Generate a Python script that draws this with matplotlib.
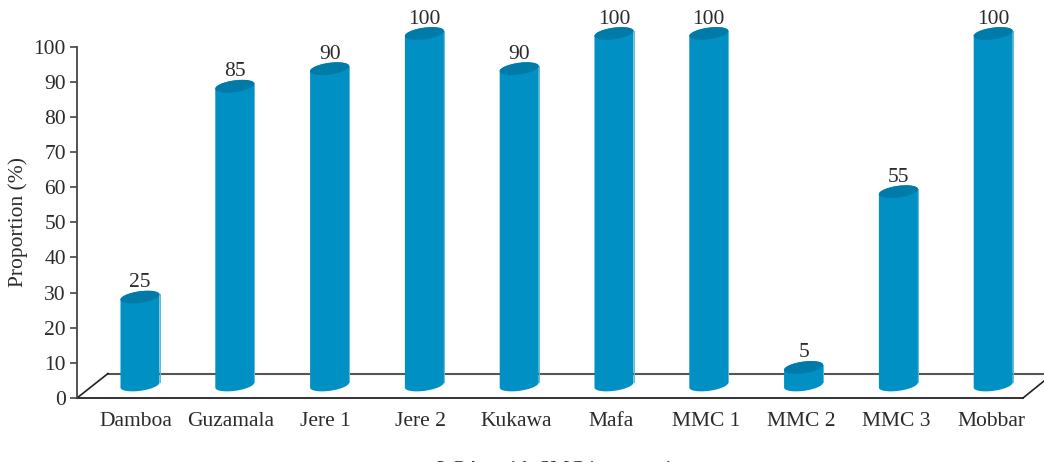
import numpy as np
import matplotlib
matplotlib.use("Agg")
import matplotlib.pyplot as plt
from matplotlib.patches import Polygon
from matplotlib.transforms import ScaledTranslation

categories = ["Damboa", "Guzamala", "Jere 1", "Jere 2", "Kukawa", "Mafa",
              "MMC 1", "MMC 2", "MMC 3", "Mobbar"]
values = [25, 85, 90, 100, 90, 100, 100, 5, 55, 100]
y_ticks = list(range(0, 101, 10))

W, H = 1044, 462
plt.rcParams["font.family"] = ["Liberation Serif", "DejaVu Serif"]
INK = "#2b2b2b"
BODY = "#0090C4"
TOP = "#007BA8"
EDGE = "#5DBBDC"
FS = 15.5

fig = plt.figure(figsize=(W / 100, H / 100), dpi=100)
left, right, bottom, top = 77, W, 398, 46.5
ax = fig.add_axes([left / W, 1 - bottom / H, (right - left) / W, (bottom - top) / H])
x0, step = 140.0, 94.8
ax.set_xlim((left - x0) / step, (right - x0) / step)
ax.set_ylim(0, 100)
sx = step
sy = (bottom - top) / 100

for s in ["top", "right", "bottom"]:
    ax.spines[s].set_visible(False)
ax.spines["left"].set_color("#444444")
ax.spines["left"].set_linewidth(1.3)

ax.set_yticks(y_ticks)
ax.set_xticks(range(len(categories)))
ax.set_xticklabels(categories)
ax.tick_params(axis="y", length=5, width=1.2, color="#444444", labelcolor=INK,
               labelsize=FS, pad=3)
ax.tick_params(axis="x", length=0, labelcolor=INK, labelsize=FS, pad=10)
for i, lab in enumerate(ax.get_xticklabels()):
    lab.set_transform(lab.get_transform() +
                      ScaledTranslation((-4.5 + 0.3 * i) / 100, 0, fig.dpi_scale_trans))
ax.set_xlabel("LGAs with SMC intervention", fontsize=FS, color=INK)
ax.xaxis.set_label_coords((565 - left) / (right - left), -(461 - bottom) / (bottom - top),
                          transform=ax.transAxes)
ax.set_ylabel("Proportion (%)", fontsize=FS, color=INK, labelpad=4)

# Floor of the 3D chart
depth = 24.5 / sy
dx = 31 / sx
xl, xr = ax.get_xlim()
front_end = xr - 21 / sx
ax.plot([xl, front_end], [0, 0], color="#222222", lw=1.3, clip_on=False, zorder=1)
ax.plot([xl + dx, xr], [depth, depth], color="#555555", lw=1.5, clip_on=False, zorder=1)
ax.plot([xl, xl + dx], [0, depth], color="#222222", lw=1.2, clip_on=False, zorder=1)
ax.plot([front_end, xr], [0, 17 / sy], color="#222222", lw=1.2, clip_on=False, zorder=1)

# Tilted ellipse outline, in data units
A, B, PHI = 19.7, 5.8, np.deg2rad(8)
def ellipse(cx, cy, t):
    ex = (A * np.cos(t) * np.cos(PHI) - B * np.sin(t) * np.sin(PHI)) / sx
    ey = (A * np.cos(t) * np.sin(PHI) + B * np.sin(t) * np.cos(PHI)) / sy
    return np.column_stack([cx + ex, cy + ey])

base = 13 / sy
for i, v in enumerate(values):
    ytop = base + v
    pts = np.vstack([ellipse(i, ytop, np.linspace(0, np.pi, 60)),
                     ellipse(i, base, np.linspace(np.pi, 2 * np.pi, 60))])
    ax.add_patch(Polygon(pts, closed=True, facecolor=BODY, edgecolor="none",
                         clip_on=False, zorder=3))
    r0 = ellipse(i, ytop, np.array([0.0]))[0]
    r1 = ellipse(i, base, np.array([0.0]))[0]
    ax.plot([r0[0], r1[0]], [r0[1], r1[1]], color=EDGE, lw=0.7, clip_on=False, zorder=3.5)
    ax.add_patch(Polygon(ellipse(i, ytop, np.linspace(0, 2 * np.pi, 120)), closed=True,
                         facecolor=TOP, edgecolor="none", clip_on=False, zorder=4))
    ax.annotate(str(v), (i, ytop), xytext=(0, 14.5 * 0.72), textcoords="offset points",
                ha="center", va="center", fontsize=FS, color=INK, annotation_clip=False,
                zorder=5)

fig.savefig("out.png", dpi=100)
